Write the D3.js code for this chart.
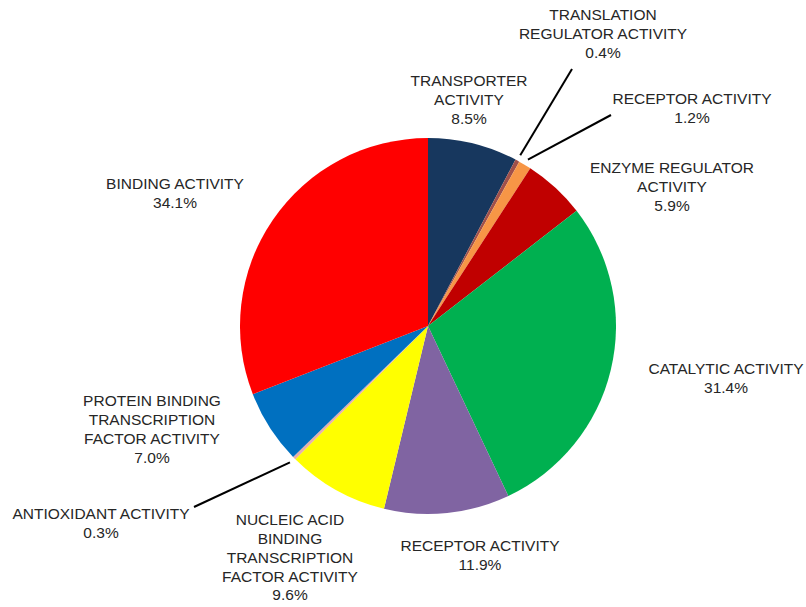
<!DOCTYPE html>
<html><head><meta charset="utf-8">
<script src="https://cdn.jsdelivr.net/npm/d3@7"></script>
<style>
html,body{margin:0;padding:0;background:#fff;}
svg{display:block;}
text{font-family:"Liberation Sans",Arial,sans-serif;font-size:15.5px;fill:#262626;}
</style></head><body>
<script>
const categories = [
  ["TRANSPORTER","ACTIVITY"],
  ["TRANSLATION","REGULATOR ACTIVITY"],
  ["RECEPTOR ACTIVITY"],
  ["ENZYME REGULATOR","ACTIVITY"],
  ["CATALYTIC ACTIVITY"],
  ["RECEPTOR ACTIVITY"],
  ["NUCLEIC ACID","BINDING","TRANSCRIPTION","FACTOR ACTIVITY"],
  ["ANTIOXIDANT ACTIVITY"],
  ["PROTEIN BINDING","TRANSCRIPTION","FACTOR ACTIVITY"],
  ["BINDING ACTIVITY"]
];
const values = [8.5, 0.4, 1.2, 5.9, 31.4, 11.9, 9.6, 0.3, 7.0, 34.1];
const percentLabels = ["8.5%","0.4%","1.2%","5.9%","31.4%","11.9%","9.6%","0.3%","7.0%","34.1%"];
const colors = ["#17375E","#A0504A","#F79646","#C00000","#00B050","#8064A2","#FFFF00","#E6B0AA","#0070C0","#FF0000"];

// label layout (center x, first-line y) and leader flags
const labelLayout = [
  {x:469, y:81, leader:false},
  {x:603, y:15, leader:true, lx:572, ly:69},
  {x:692, y:99, leader:true, lx:611, ly:115},
  {x:672, y:168, leader:false},
  {x:726, y:369, leader:false},
  {x:480, y:546, leader:false},
  {x:290, y:520, leader:false},
  {x:101, y:514, leader:true, lx:194, ly:507},
  {x:152, y:401, leader:false},
  {x:175, y:184, leader:false}
];
const lineH = 18.7;

const W = 806, H = 607, cx = 428, cy = 326, R = 188;
const svg = d3.select("body").append("svg").attr("width", W).attr("height", H);
const g = svg.append("g").attr("transform", `translate(${cx},${cy})`);

const pie = d3.pie().sort(null).value(d => d)(values);
const arc = d3.arc().innerRadius(0).outerRadius(R);
g.selectAll("path.slice").data(pie).join("path")
  .attr("class","slice")
  .attr("d", arc)
  .attr("fill", (d,i) => colors[i]);

pie.forEach((d, i) => {
  const L = labelLayout[i];
  if (L.leader) {
    const mid = (d.startAngle + d.endAngle) / 2;
    const r = R + 6;
    const px = Math.sin(mid) * r, py = -Math.cos(mid) * r;
    g.append("line")
      .attr("x1", px).attr("y1", py)
      .attr("x2", L.lx - cx).attr("y2", L.ly - cy)
      .attr("stroke", "#000").attr("stroke-width", 2);
  }
  const lines = categories[i].concat([percentLabels[i]]);
  const t = svg.append("text").attr("text-anchor","middle");
  lines.forEach((s, k) => {
    t.append("tspan").attr("x", L.x).attr("y", L.y + k * lineH).attr("dy","0.35em").text(s);
  });
});
</script>
</body></html>
